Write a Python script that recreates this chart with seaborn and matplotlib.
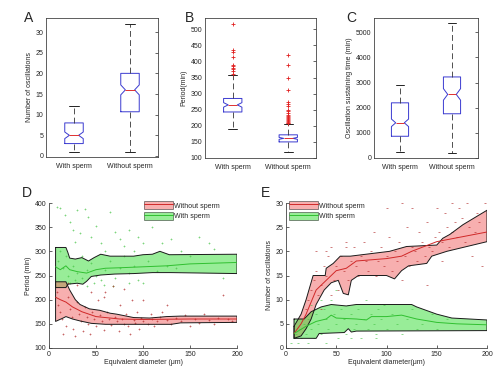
import matplotlib
matplotlib.use("Agg")
import matplotlib.pyplot as plt
from matplotlib.patches import Patch
from matplotlib.lines import Line2D
import seaborn as sns
import numpy as np

sns.set_style("white")
plt.rcParams['font.family'] = ['Liberation Sans', 'DejaVu Sans']
plt.rcParams['xtick.direction'] = 'in'
plt.rcParams['ytick.direction'] = 'in'
plt.rcParams['xtick.major.size'] = 2
plt.rcParams['ytick.major.size'] = 2
plt.rcParams['xtick.major.width'] = 0.5
plt.rcParams['ytick.major.width'] = 0.5
plt.rcParams['axes.linewidth'] = 0.6
plt.rcParams['axes.edgecolor'] = '#444444'

# ---------------- data ----------------
groups = ["With sperm", "Without sperm"]

# A: number of oscillations (box summary)
a_med = [5, 16]; a_q1 = [3, 10.7]; a_q3 = [8, 20]
a_wlo = [1, 1]; a_whi = [12, 32]
a_cilo = [4.2, 14.8]; a_cihi = [5.8, 17.2]
a_fliers = [[], []]

# B: period (min)
b_med = [265, 161]; b_q1 = [243, 150]; b_q3 = [285, 172]
b_wlo = [190, 120]; b_whi = [357, 205]
b_cilo = [258, 158]; b_cihi = [272, 164]
b_fliers = [[362, 370, 375, 380, 385, 390, 415, 430, 437, 515],
            [208, 210, 212, 215, 218, 222, 225, 228, 232, 235, 240, 245,
             250, 262, 268, 275, 311, 350, 389, 420]]

# C: oscillation sustaining time (min)
c_med = [1400, 2530]; c_q1 = [865, 1760]; c_q3 = [2195, 3225]
c_wlo = [225, 200]; c_whi = [2900, 5360]
c_cilo = [1250, 2300]; c_cihi = [1550, 2760]
c_fliers = [[], []]

# D: period vs equivalent diameter
dgu_x = [7, 18, 20, 22, 28, 35, 42, 48, 55, 65, 90, 100, 110, 118, 128, 200]
dgu_y = [308, 308, 298, 286, 284, 287, 280, 287, 294, 290, 290, 293, 294, 300, 293, 294]
dgl_x = [7, 18, 20, 30, 36, 40, 45, 55, 70, 90, 110, 130, 200]
dgl_y = [225, 225, 232, 234, 232, 238, 248, 251, 253, 254, 256, 256, 254]
dgm_x = [7, 12, 18, 22, 30, 40, 50, 60, 75, 100, 125, 150, 200]
dgm_y = [268, 262, 270, 262, 258, 255, 262, 265, 266, 268, 270, 274, 277]
dru_x = [7, 18, 22, 28, 33, 43, 54, 65, 72, 90, 107, 125, 140, 200]
dru_y = [237, 237, 220, 200, 190, 181, 178, 172, 170, 163, 162, 165, 166, 166]
drl_x = [7, 15, 18, 25, 33, 45, 60, 130, 140, 200]
drl_y = [155, 162, 165, 160, 156, 151, 149, 149, 152, 153]
drm_x = [7, 12, 18, 25, 35, 50, 75, 100, 150, 200]
drm_y = [205, 200, 195, 185, 175, 165, 160, 159, 160, 160]

dg_pts_x = [8, 12, 17, 22, 25, 30, 38, 42, 33, 28, 45, 50, 55, 60, 65, 70, 75, 80, 85, 90,
            95, 100, 110, 120, 130, 140, 150, 160, 170, 175, 185, 10, 15, 20, 25, 30, 35, 40,
            45, 50, 55, 60, 65, 70, 75, 80, 85, 90, 95, 100, 105, 115, 125, 135, 12, 18, 22,
            28, 35, 40, 48, 58, 68, 85]
dg_pts_y = [392, 390, 375, 360, 345, 385, 388, 372, 338, 320, 330, 352, 318, 300, 382, 340,
            325, 310, 345, 300, 330, 318, 350, 318, 325, 300, 290, 330, 318, 305, 245, 280,
            265, 250, 270, 255, 245, 262, 275, 250, 240, 262, 280, 245, 265, 290, 255, 270,
            240, 235, 280, 260, 270, 265, 300, 290, 235, 240, 290, 228, 235, 230, 228, 235]
dr_pts_x = [8, 10, 12, 14, 15, 18, 20, 22, 24, 26, 28, 30, 32, 34, 36, 38, 40, 42, 44, 46,
            48, 50, 52, 54, 56, 58, 60, 62, 64, 66, 68, 70, 72, 74, 76, 78, 80, 82, 84, 86,
            88, 90, 92, 94, 96, 98, 100, 105, 108, 110, 112, 115, 118, 120, 125, 130, 135,
            140, 145, 150, 155, 160, 165, 170, 175, 180, 185, 190, 195, 20, 30, 45, 58, 80,
            100, 125]
dr_pts_y = [215, 190, 175, 160, 130, 145, 205, 180, 165, 140, 125, 195, 170, 155, 135, 185,
            165, 150, 130, 175, 160, 145, 200, 168, 155, 138, 215, 175, 160, 148, 228, 165,
            155, 135, 190, 160, 150, 170, 145, 128, 200, 158, 152, 175, 140, 162, 155, 150,
            170, 160, 145, 155, 165, 175, 158, 150, 162, 155, 168, 145, 160, 152, 170, 158,
            150, 162, 210, 160, 155, 235, 230, 215, 205, 222, 200, 190]

# E: number of oscillations vs equivalent diameter
eru_x = [8, 15, 20, 27, 39, 40, 47, 54, 64, 103, 120, 150, 156, 163, 176, 200]
eru_y = [4.5, 7, 10, 15, 15, 16.5, 17.5, 19, 19, 20, 21, 21.3, 22.7, 23.5, 25.5, 28.5]
erl_x = [8, 15, 20, 25, 30, 38, 45, 52, 57, 62, 65, 72, 100, 108, 115, 122, 140, 145, 160, 180, 200]
erl_y = [2, 2.5, 4, 6, 9, 12, 13.5, 14, 11.3, 11, 14, 15, 15, 14.3, 16, 17, 17.5, 19, 20, 21, 22]
erm_x = [8, 15, 20, 30, 40, 50, 60, 70, 100, 115, 125, 150, 175, 200]
erm_y = [3, 5, 7, 12, 14, 16, 16.5, 18, 18.5, 19, 20, 22, 23, 24]
egu_x = [8, 18, 25, 35, 45, 55, 60, 70, 125, 130, 150, 165, 200]
egu_y = [6, 6, 7.5, 8.5, 9, 8.8, 8.7, 9, 9, 8.5, 7, 6.2, 5.8]
egl_x = [8, 30, 33, 58, 62, 65, 70, 200]
egl_y = [2, 2, 3, 3.2, 4, 3.3, 3.5, 3.6]
egm_x = [8, 20, 30, 40, 45, 50, 70, 80, 85, 100, 115, 130, 150, 170, 200]
egm_y = [3, 4.5, 5.5, 6, 6.8, 6.2, 6, 5.8, 6.5, 6.5, 6.8, 6, 5.3, 5, 4.8]

er_pts_x = [20, 22, 25, 28, 30, 32, 35, 38, 40, 42, 45, 48, 50, 52, 55, 58, 60, 62, 65, 68,
            70, 72, 75, 78, 80, 82, 85, 88, 90, 92, 95, 98, 100, 102, 105, 108, 110, 112, 115,
            118, 120, 122, 125, 128, 130, 132, 135, 138, 140, 142, 145, 148, 150, 152, 155,
            158, 160, 162, 165, 168, 170, 172, 175, 178, 180, 182, 185, 188, 190, 192, 195,
            198, 60, 45, 35, 40, 30, 100, 115, 125, 165, 140, 155]
er_pts_y = [8, 10, 12, 14, 16, 11, 13, 17, 15, 19, 21, 14, 17, 12, 19, 16, 22, 14, 18, 21,
            17, 15, 19, 22, 18, 16, 20, 24, 15, 18, 21, 17, 19, 23, 16, 20, 18, 22, 14, 19,
            25, 17, 21, 20, 18, 24, 22, 19, 26, 21, 20, 23, 29, 24, 22, 28, 25, 21, 24, 26,
            23, 29, 27, 22, 30, 25, 19, 24, 28, 26, 17, 30, 21, 11, 8, 20, 20, 29, 30, 29,
            30, 13, 18]
eg_pts_x = [5, 8, 10, 12, 14, 15, 18, 20, 22, 25, 28, 30, 32, 35, 38, 40, 42, 45, 48, 50,
            52, 55, 58, 60, 62, 65, 68, 70, 72, 75, 78, 80, 82, 85, 88, 90, 92, 95, 98, 100,
            105, 110, 115, 120, 125, 130, 135, 145, 150, 160, 22, 40, 50, 35, 65, 90, 25]
eg_pts_y = [1, 2, 3, 1, 4, 2, 5, 3, 6, 4, 2, 7, 5, 3, 8, 6, 4, 10, 7, 5,
            2, 8, 6, 3, 9, 7, 4, 5, 8, 2, 6, 10, 4, 7, 5, 3, 8, 6, 9, 4,
            7, 5, 3, 6, 8, 4, 5, 7, 4, 6, 1, 1, 12, 10, 2, 2, 9]

red_fill = '#f06060'
green_fill = '#33dd33'
red_line = '#d02828'
green_line = '#30c030'
red_pt = '#b02525'
green_pt = '#44c444'

W, H = 500, 367
fig = plt.figure(figsize=(W / 100, H / 100), dpi=100)


def ax_at(l, r, t, b):
    return fig.add_axes([l / W, 1 - b / H, (r - l) / W, (b - t) / H])


def box_panel(ax, med, q1, q3, wlo, whi, cilo, cihi, fliers):
    stats = []
    for i in range(2):
        stats.append(dict(med=med[i], q1=q1[i], q3=q3[i], whislo=wlo[i], whishi=whi[i],
                          cilo=cilo[i], cihi=cihi[i], fliers=fliers[i], label=groups[i]))
    ax.bxp(stats, positions=[1, 2], widths=0.33, shownotches=True,
           boxprops=dict(color='#3a3ad0', lw=0.7),
           medianprops=dict(color='#e03030', lw=0.7),
           whiskerprops=dict(color='#333333', lw=0.6, ls=(0, (7, 4))),
           capprops=dict(color='#222222', lw=0.7),
           flierprops=dict(marker='+', markeredgecolor='#e02020', markersize=3.5,
                           markeredgewidth=0.6))
    ax.set_xlim(0.5, 2.5)
    ax.tick_params(labelsize=5, top=True, right=True, pad=2, length=2)
    ax.tick_params(axis='x', length=0, pad=4)
    for s in ax.spines.values():
        s.set_visible(True)


axA = ax_at(46, 158, 18, 157)
box_panel(axA, a_med, a_q1, a_q3, a_wlo, a_whi, a_cilo, a_cihi, a_fliers)
axA.set_ylim(-0.25, 33.4)
axA.set_yticks(range(0, 31, 5))
axA.set_ylabel("Number of oscillations", fontsize=5, labelpad=2)

axB = ax_at(205, 316, 18, 158)
box_panel(axB, b_med, b_q1, b_q3, b_wlo, b_whi, b_cilo, b_cihi, b_fliers)
axB.set_ylim(100, 535)
axB.set_yticks(range(100, 501, 50))
axB.set_ylabel("Period(min)", fontsize=5, labelpad=2)

axC = ax_at(374, 478, 18, 158)
box_panel(axC, c_med, c_q1, c_q3, c_wlo, c_whi, c_cilo, c_cihi, c_fliers)
axC.set_ylim(0, 5570)
axC.set_yticks(range(0, 5001, 1000))
axC.set_ylabel("Oscillation sustaining time (min)", fontsize=5, labelpad=2)


def band(ax, ux, uy, lx, ly, fc):
    px = list(ux) + list(lx)[::-1] + [ux[0]]
    py = list(uy) + list(ly)[::-1] + [uy[0]]
    ax.fill(px, py, facecolor=fc, alpha=0.5, edgecolor='none', zorder=2)
    ax.plot(px, py, color='#1a1a1a', lw=0.7, zorder=4)


def line_panel(ax):
    sns.despine(ax=ax)
    ax.set_xlim(0, 200)
    ax.set_xticks(range(0, 201, 50))
    ax.tick_params(labelsize=5, pad=2, length=2, left=True, bottom=True)


# ---- D ----
axD = ax_at(49, 237, 203, 348)
sns.scatterplot(x=dg_pts_x, y=dg_pts_y, ax=axD, marker='+', s=3, color=green_pt,
                linewidth=0.5, alpha=0.7, zorder=3)
sns.scatterplot(x=dr_pts_x, y=dr_pts_y, ax=axD, marker='+', s=3, color=red_pt,
                linewidth=0.5, alpha=0.7, zorder=3)
band(axD, dgu_x, dgu_y, dgl_x, dgl_y, green_fill)
band(axD, dru_x, dru_y, drl_x, drl_y, red_fill)
sns.lineplot(x=dgm_x, y=dgm_y, ax=axD, color=green_line, lw=0.7, zorder=5)
sns.lineplot(x=drm_x, y=drm_y, ax=axD, color=red_line, lw=0.7, zorder=5)
line_panel(axD)
axD.set_ylim(100, 400)
axD.set_yticks(range(100, 401, 50))
axD.set_xlabel("Equivalent diameter (μm)", fontsize=5, labelpad=1)
axD.set_ylabel("Period (min)", fontsize=5, labelpad=2)

# ---- E ----
axE = ax_at(286, 487, 203, 348)
sns.scatterplot(x=eg_pts_x, y=eg_pts_y, ax=axE, marker='_', s=4, color=green_pt,
                linewidth=0.6, alpha=0.7, zorder=3)
sns.scatterplot(x=er_pts_x, y=er_pts_y, ax=axE, marker='_', s=4, color=red_pt,
                linewidth=0.6, alpha=0.7, zorder=3)
band(axE, eru_x, eru_y, erl_x, erl_y, red_fill)
band(axE, egu_x, egu_y, egl_x, egl_y, green_fill)
sns.lineplot(x=erm_x, y=erm_y, ax=axE, color=red_line, lw=0.7, zorder=5)
sns.lineplot(x=egm_x, y=egm_y, ax=axE, color=green_line, lw=0.7, zorder=5)
line_panel(axE)
axE.set_ylim(0, 30)
axE.set_yticks(range(0, 31, 5))
axE.set_xlabel("Equivalent diameter(μm)", fontsize=5, labelpad=1)
axE.set_ylabel("Number of oscillations", fontsize=5, labelpad=2)


def legend_handles():
    hr = (Patch(facecolor=red_fill, alpha=0.5, edgecolor='#1a1a1a', lw=0.7),
          Line2D([], [], color=red_line, lw=0.7))
    hg = (Patch(facecolor=green_fill, alpha=0.5, edgecolor='#1a1a1a', lw=0.7),
          Line2D([], [], color=green_line, lw=0.7))
    return [hr, hg], ["Without sperm", "With sperm"]


for ax, loc in [(axD, (0.49, 1.03)), (axE, (0.0, 1.03))]:
    h, l = legend_handles()
    ax.legend(h, l, loc='upper left', bbox_to_anchor=loc, frameon=False, fontsize=5,
              handlelength=4.2, handleheight=1.3, handletextpad=0.2, labelspacing=0.35,
              borderaxespad=0)

for txt, x, y in [("A", 24, 22), ("B", 185, 22), ("C", 346, 22), ("D", 22, 197), ("E", 261, 197)]:
    fig.text(x / W, 1 - y / H, txt, fontsize=10, ha='left', va='baseline')

fig.savefig("out.png", dpi=100)
